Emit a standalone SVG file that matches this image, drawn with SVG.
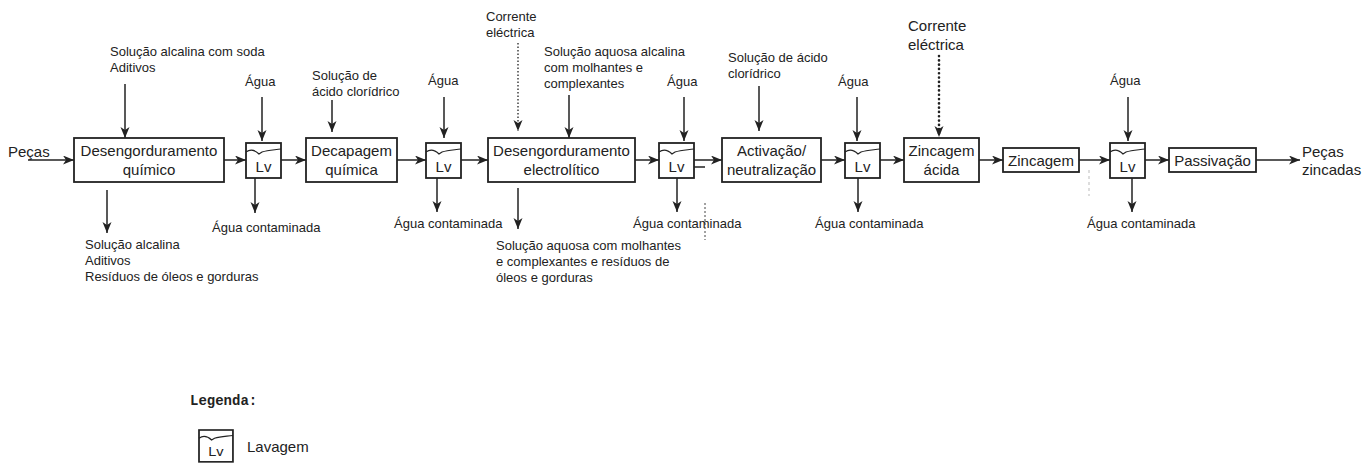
<svg xmlns="http://www.w3.org/2000/svg" xmlns:xlink="http://www.w3.org/1999/xlink" width="1368" height="464" viewBox="0 0 1368 464">
<style>
  .box{fill:#fff;stroke:#222;stroke-width:1.8}
  .bt{font-family:"Liberation Sans",Arial,sans-serif;font-size:15px;fill:#222;text-anchor:middle}
  .lb{font-family:"Liberation Sans",Arial,sans-serif;font-size:13px;fill:#222}
  .lbl{font-family:"Liberation Sans",Arial,sans-serif;font-size:15px;fill:#222}
  .ln{stroke:#222;stroke-width:1.5;fill:none;marker-end:url(#ah)}
  .dot{stroke:#222;stroke-width:1.3;fill:none;stroke-dasharray:1.5 2;marker-end:url(#ah)}
  .dot2{stroke:#222;stroke-width:2.6;fill:none;stroke-dasharray:0.1 4.2;stroke-linecap:round;marker-end:url(#ah)}
  .mono{font-family:"Liberation Mono","Courier New",monospace;font-size:14px;font-weight:bold;fill:#222}
</style>
<defs>
  <marker id="ah" markerUnits="userSpaceOnUse" markerWidth="12" markerHeight="10" refX="11" refY="4.5" orient="auto">
    <path d="M0,0 L11,4.5 L0,9 L3,4.5 z" fill="#222"/>
  </marker>
  <g id="lv">
    <rect x="0" y="0" width="35" height="35" class="box"/>
    <path d="M0,9 C4,6 9,7 13,11 L16,9 C22,7 28,7 35,6" fill="none" stroke="#222" stroke-width="1.2"/>
    <text x="17.5" y="29" class="bt">Lv</text>
  </g>
</defs>
<rect width="1368" height="464" fill="#fff"/>

<g id="connectors">
  <line x1="28" y1="160" x2="74" y2="160" class="ln"/>
  <line x1="224" y1="160" x2="246" y2="160" class="ln"/>
  <line x1="281" y1="160" x2="306" y2="160" class="ln"/>
  <line x1="397" y1="160" x2="426" y2="160" class="ln"/>
  <line x1="461" y1="160" x2="488" y2="160" class="ln"/>
  <line x1="635" y1="160" x2="659" y2="160" class="ln"/>
  <line x1="694" y1="160" x2="722" y2="160" class="ln"/>
  <line x1="694" y1="167" x2="705" y2="167" stroke="#222" stroke-width="1.5"/>
  <line x1="821" y1="160" x2="845" y2="160" class="ln"/>
  <line x1="880" y1="160" x2="904" y2="160" class="ln"/>
  <line x1="979" y1="160" x2="1003" y2="160" class="ln"/>
  <line x1="1079" y1="160" x2="1110" y2="160" class="ln"/>
  <line x1="1145" y1="160" x2="1169" y2="160" class="ln"/>
  <line x1="1256" y1="160" x2="1300" y2="160" class="ln"/>

  <line x1="125" y1="84" x2="125" y2="138" class="ln"/>
  <line x1="262" y1="97" x2="262" y2="141" class="ln"/>
  <line x1="332" y1="100" x2="332" y2="132" class="ln"/>
  <line x1="444" y1="97" x2="444" y2="138" class="ln"/>
  <line x1="518" y1="43" x2="518" y2="131" class="dot"/>
  <line x1="569" y1="95" x2="569" y2="138" class="ln"/>
  <line x1="684" y1="97" x2="684" y2="141" class="ln"/>
  <line x1="759" y1="86" x2="759" y2="131" class="ln"/>
  <line x1="857" y1="97" x2="857" y2="141" class="ln"/>
  <line x1="939" y1="56" x2="939" y2="137" class="dot2"/>
  <line x1="1128" y1="97" x2="1128" y2="141" class="ln"/>

  <line x1="107" y1="190" x2="107" y2="233" class="ln"/>
  <line x1="255" y1="178" x2="255" y2="213" class="ln"/>
  <line x1="437" y1="178" x2="437" y2="212" class="ln"/>
  <line x1="518" y1="188" x2="518" y2="229" class="ln"/>
  <line x1="677" y1="178" x2="677" y2="212" class="ln"/>
  <line x1="858" y1="178" x2="858" y2="212" class="ln"/>
  <line x1="1132" y1="178" x2="1132" y2="212" class="ln"/>

  <line x1="705" y1="203" x2="705" y2="240" stroke="#444" stroke-width="1" stroke-dasharray="2 2"/>
  <line x1="1089" y1="170" x2="1089" y2="196" stroke="#bbb" stroke-width="1" stroke-dasharray="3 3"/>
</g>

<g id="in-pecas"><text x="8" y="157" class="lbl">Peças</text></g>
<g id="out-pecas"><text x="1302" y="157" class="lbl">Peças</text><text x="1302" y="175" class="lbl">zincadas</text></g>

<g id="n1">
  <rect x="74" y="138" width="150" height="44" class="box"/>
  <text x="149" y="156" class="bt">Desengorduramento</text>
  <text x="149" y="175" class="bt">químico</text>
</g>
<g id="lv1"><use xlink:href="#lv" x="246" y="143"/></g>
<g id="n2">
  <rect x="306" y="138" width="91" height="44" class="box"/>
  <text x="351.5" y="156" class="bt">Decapagem</text>
  <text x="351.5" y="175" class="bt">química</text>
</g>
<g id="lv2"><use xlink:href="#lv" x="426" y="143"/></g>
<g id="n3">
  <rect x="488" y="138" width="147" height="44" class="box"/>
  <text x="561.5" y="156" class="bt">Desengorduramento</text>
  <text x="561.5" y="175" class="bt">electrolítico</text>
</g>
<g id="lv3"><use xlink:href="#lv" x="659" y="143"/></g>
<g id="n4">
  <rect x="722" y="138" width="99" height="44" class="box"/>
  <text x="771.5" y="156" class="bt">Activação/</text>
  <text x="771.5" y="175" class="bt">neutralização</text>
</g>
<g id="lv4"><use xlink:href="#lv" x="845" y="143"/></g>
<g id="n5">
  <rect x="904" y="138" width="75" height="44" class="box"/>
  <text x="941.5" y="156" class="bt">Zincagem</text>
  <text x="941.5" y="175" class="bt">ácida</text>
</g>
<g id="n6">
  <rect x="1003" y="148" width="76" height="24" class="box"/>
  <text x="1041" y="166" class="bt">Zincagem</text>
</g>
<g id="lv5"><use xlink:href="#lv" x="1110" y="143"/></g>
<g id="n7">
  <rect x="1169" y="148" width="87" height="24" class="box"/>
  <text x="1212.5" y="166" class="bt">Passivação</text>
</g>

<g id="labels">
  <text x="110" y="56" class="lb">Solução alcalina com soda</text>
  <text x="110" y="72" class="lb">Aditivos</text>
  <text x="245" y="86" class="lb">Água</text>
  <text x="212" y="232" class="lb">Água contaminada</text>
  <text x="85" y="249" class="lb">Solução alcalina</text>
  <text x="85" y="265" class="lb">Aditivos</text>
  <text x="85" y="281" class="lb">Resíduos de óleos e gorduras</text>
  <text x="312" y="80" class="lb">Solução de</text>
  <text x="312" y="96" class="lb">ácido clorídrico</text>
  <text x="428" y="85" class="lb">Água</text>
  <text x="394" y="228" class="lb">Água contaminada</text>
  <text x="486" y="21" class="lb">Corrente</text>
  <text x="486" y="37" class="lb">eléctrica</text>
  <text x="544" y="56" class="lb">Solução aquosa alcalina</text>
  <text x="544" y="72" class="lb">com molhantes e</text>
  <text x="544" y="88" class="lb">complexantes</text>
  <text x="667" y="86" class="lb">Água</text>
  <text x="633" y="228" class="lb">Água contaminada</text>
  <text x="496" y="250" class="lb">Solução aquosa com molhantes</text>
  <text x="496" y="266" class="lb">e complexantes e resíduos de</text>
  <text x="496" y="282" class="lb">óleos e gorduras</text>
  <text x="728" y="62" class="lb">Solução de ácido</text>
  <text x="728" y="78" class="lb">clorídrico</text>
  <text x="838" y="86" class="lb">Água</text>
  <text x="815" y="228" class="lb">Água contaminada</text>
  <text x="908" y="31" class="lbl">Corrente</text>
  <text x="908" y="50" class="lbl">eléctrica</text>
  <text x="1110" y="85" class="lb">Água</text>
  <text x="1087" y="228" class="lb">Água contaminada</text>
</g>

<g id="legend">
  <text x="190" y="405" class="mono">Legenda:</text>
  <g transform="translate(199,430) scale(0.97,0.91)"><use xlink:href="#lv"/></g>
  <text x="247" y="452" class="lbl">Lavagem</text>
</g>
</svg>
